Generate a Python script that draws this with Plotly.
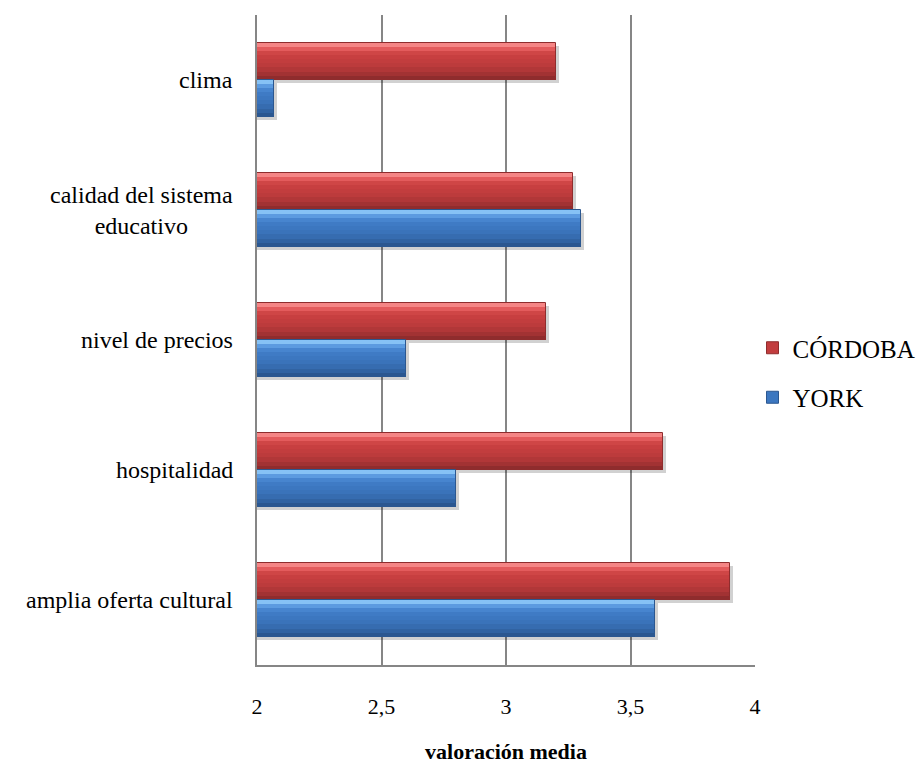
import plotly.graph_objects as go

# Categories listed bottom to top, as they appear on the vertical axis
categorias = ["amplia oferta cultural", "hospitalidad", "nivel de precios",
              "calidad del sistema<br>educativo", "clima"]
cordoba = [3.90, 3.63, 3.16, 3.27, 3.20]
york = [3.60, 2.80, 2.60, 3.30, 2.07]
x_ticks = [2, 2.5, 3, 3.5, 4]

AXIS_MIN = 2
BAR_W = 0.285
SERIF = "Liberation Serif"

# Vertical colour profile (top -> bottom) giving the bevelled, glossy look
red_profile = ["#F58585", "#E35B5C", "#CF4646", "#C73F40", "#C23D3E", "#BC3B3C",
               "#B13738", "#A23233", "#8F2C2D"]
blue_profile = ["#86C2F5", "#5C9BE0", "#4785CF", "#3F7BC5", "#3C77C0", "#3A73BA",
                "#366CB0", "#3163A2", "#2B5790"]

pos = list(range(len(categorias)))
fig = go.Figure()


def add_series(name, values, offset, profile):
    lengths = [v - AXIS_MIN for v in values]
    # soft drop shadow
    fig.add_trace(go.Bar(
        y=[p - 0.022 for p in pos], x=[l + 0.012 for l in lengths], base=AXIS_MIN,
        orientation="h", offset=offset, width=BAR_W,
        marker=dict(color="rgba(0,0,0,0.18)", line=dict(width=0)),
        showlegend=False, hoverinfo="skip"))
    n = len(profile)
    step = BAR_W / n
    for k, col in enumerate(profile):
        fig.add_trace(go.Bar(
            y=pos, x=lengths, base=AXIS_MIN, orientation="h",
            offset=offset + BAR_W - (k + 1) * step, width=step * 1.05,
            marker=dict(color=col, line=dict(width=0)),
            showlegend=False, hoverinfo="skip"))
    # outline + hover
    fig.add_trace(go.Bar(
        y=pos, x=lengths, base=AXIS_MIN, orientation="h",
        offset=offset, width=BAR_W, name=name, legendgroup=name,
        marker=dict(color="rgba(0,0,0,0)", line=dict(color=profile[-1], width=1)),
        customdata=values, hovertemplate="%{customdata}<extra>" + name + "</extra>",
        showlegend=False))
    # legend swatch
    fig.add_trace(go.Bar(
        y=[None], x=[None], orientation="h", name=name, legendgroup=name,
        marker=dict(color=profile[4], line=dict(color=profile[-1], width=1)),
        showlegend=True))


add_series("CÓRDOBA", cordoba, 0.0, red_profile)
add_series("YORK", york, -BAR_W, blue_profile)

for p, label in zip(pos, categorias):
    fig.add_annotation(x=AXIS_MIN, y=p, xref="x", yref="y", text=label,
                       showarrow=False, xanchor="right", yanchor="middle",
                       xshift=-22, align="center",
                       font=dict(family=SERIF, size=24, color="black"))

fig.update_layout(
    width=919, height=764,
    margin=dict(l=257, r=164, t=15, b=99, autoexpand=False),
    paper_bgcolor="white", plot_bgcolor="white",
    barmode="overlay", bargap=0,
    separators=", ",
    font=dict(family=SERIF, color="black"),
    showlegend=True,
    legend=dict(x=0.995, y=0.45, xanchor="left", yanchor="middle",
                font=dict(family=SERIF, size=25, color="black"),
                tracegroupgap=14, itemwidth=30, bgcolor="rgba(0,0,0,0)"),
    xaxis=dict(range=[AXIS_MIN, 4], tickvals=x_ticks,
               tickformat=".1~f", automargin=False,
               showgrid=True, gridcolor="#868686", gridwidth=1.5,
               showline=True, linecolor="#868686", linewidth=1.5,
               zeroline=False, ticks="", ticklabelstandoff=21,
               tickfont=dict(family=SERIF, size=22, color="black"),
               title=dict(text="<b>valoración media</b>", standoff=46,
                          font=dict(family=SERIF, size=22, color="black"))),
    yaxis=dict(range=[-0.5, len(categorias) - 0.5], showticklabels=False,
               automargin=False,
               showgrid=False, zeroline=False, ticks="",
               showline=True, linecolor="#868686", linewidth=1.5),
)

fig.write_html("out.html")
